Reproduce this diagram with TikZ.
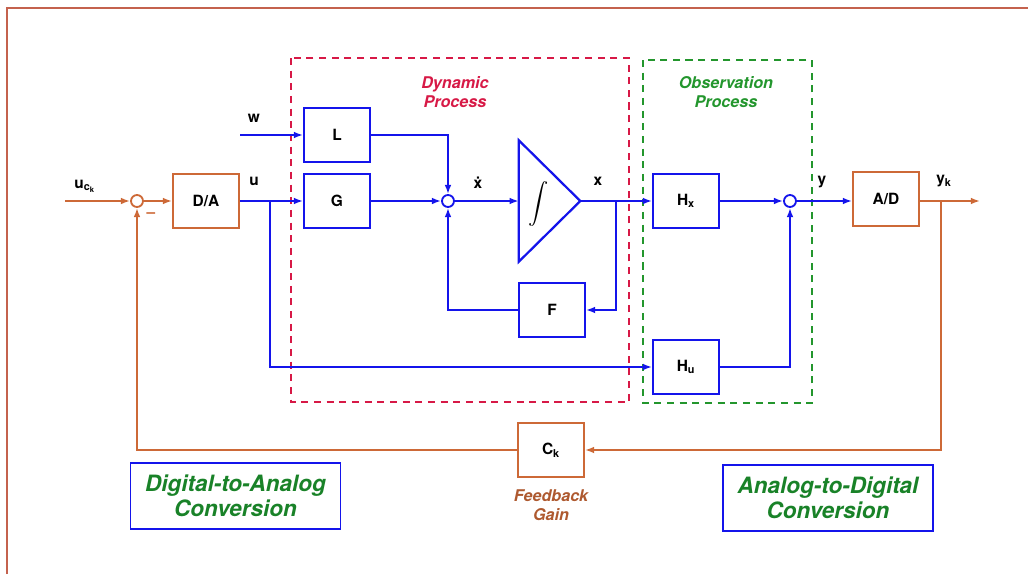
\documentclass[tikz,border=0pt]{standalone}
\usepackage{exscale}
\usepackage{fontspec}
\setmainfont{TeX Gyre Heros}
\usetikzlibrary{arrows.meta,positioning,calc}
\definecolor{cSig}{RGB}{20,20,235}
\definecolor{cDig}{RGB}{205,105,55}
\definecolor{cDyn}{RGB}{215,25,70}
\definecolor{cObs}{RGB}{35,150,45}
\definecolor{cNote}{RGB}{25,130,40}
\definecolor{cFrame}{RGB}{196,98,78}

\begin{document}
\begin{tikzpicture}[x=0.025cm,y=-0.025cm,>={Latex[length=2.3mm,width=1.7mm]},
  font=\bfseries\fontsize{11}{13}\selectfont,
  box/.style={draw,line width=1.4pt,minimum width=1.65cm,minimum height=1.35cm,inner sep=0pt},
  ana/.style={box,draw=cSig},
  dig/.style={box,draw=cDig},
  sum/.style={circle,fill=white,line width=1.3pt,minimum size=3mm,inner sep=0pt},
  sig/.style={cSig,line width=1.6pt},
  fb/.style={cDig,line width=1.3pt},
  region/.style={line width=1.3pt,dash pattern=on 5pt off 4pt},
  title/.style={font=\bfseries\itshape\fontsize{11.5}{13.5}\selectfont,align=center},
  note/.style={draw=cSig,line width=0.8pt,text=cNote,align=center,minimum width=5.25cm,minimum height=1.65cm,
    font=\bfseries\itshape\fontsize{16}{18}\selectfont}]
  \useasboundingbox (0,0) rectangle (1028,574);
  \draw[cFrame,line width=2pt] (7,574) -- (7,8) -- (1028,8);
  % process regions
  \draw[region,cDyn] (291,58) rectangle (629,402);
  \draw[region,cObs] (643,60) rectangle (812,403);
  \node[title,text=cDyn] (dyn) at (455,92) {Dynamic\\Process};
  \node[title,text=cObs] (obs) at (726,92) {Observation\\Process};
  % blocks
  \node[sum,draw=cDig] (s1) at (137,201) {};
  \node[dig] (da) at (206,201) {D/A};
  \node[ana] (L) at (337,135) {L};
  \node[ana] (G) at (337,201) {G};
  \node[sum,draw=cSig] (s2) at (448,201) {};
  \node[minimum width=1.525cm,minimum height=3.025cm,inner sep=0pt] (int) at (549.5,201) {};
  \draw[sig,line join=miter] (int.north west) -- (int.east) -- (int.south west) -- cycle;
  \node[font=\fontsize{15}{17}\selectfont] (intsym) at (539,204) {$\displaystyle\int$};
  \node[ana] (F) at (552,310) {F};
  \node[ana] (hx) at (686,201) {H\textsubscript{x}};
  \node[ana] (hu) at (686,367) {H\textsubscript{u}};
  \node[sum,draw=cSig] (s3) at (790,201) {};
  \node[dig] (ad) at (886,199) {A/D};
  \node[dig] (ck) at (551,450) {C\textsubscript{k}};
  % signal labels
  \node (uck) at (85,186) {u\textsubscript{c\textsubscript{k}}};
  \node[text=cDig] (minus) at (151,215) {--};
  \node (u) at (254,181) {u};
  \node (w) at (254,118) {w};
  \node (xd) at (478,183) {\.{x}};
  \node (x) at (598,181) {x};
  \node (y) at (822,182) {y};
  \node (yk) at (944,181) {y\textsubscript{k}};
  \coordinate (uin) at (65,201);
  \coordinate (win) at (240,135);
  \coordinate (utap) at (270,201);
  \coordinate (xtap) at (616,201);
  \coordinate (ytap) at (941,201);
  \coordinate (yout) at (980,201);
  % connectors
  \draw[fb,->] (uin) -- (s1);
  \draw[fb,->] (s1) -- (da);
  \draw[sig,->] (da) -- (G);
  \draw[sig,->] (win) -- (L);
  \draw[sig,->] (L) -| (s2);
  \draw[sig,->] (G) -- (s2);
  \draw[sig,->] (s2) -- (int.west);
  \draw[sig,->] (int.east) -- (hx);
  \draw[sig,->] (xtap) |- (F);
  \draw[sig,->] (F) -| (s2);
  \draw[sig,->] (utap) |- (hu);
  \draw[sig,->] (hx) -- (s3);
  \draw[sig,->] (hu) -| (s3);
  \draw[sig,->] (s3) -- (s3 -| ad.west);
  \draw[fb,->] (ad.east |- yout) -- (yout);
  \draw[fb,->] (ytap) |- (ck);
  \draw[fb,->] (ck) -| (s1);
  % notes
  \node[text=cDig!85!black,title] (gain) at (551,505) {Feedback\\Gain};
  \node[note] (danote) at (235.5,496) {Digital-to-Analog\\Conversion};
  \node[note] (adnote) at (828,498) {Analog-to-Digital\\Conversion};
\end{tikzpicture}
\end{document}
